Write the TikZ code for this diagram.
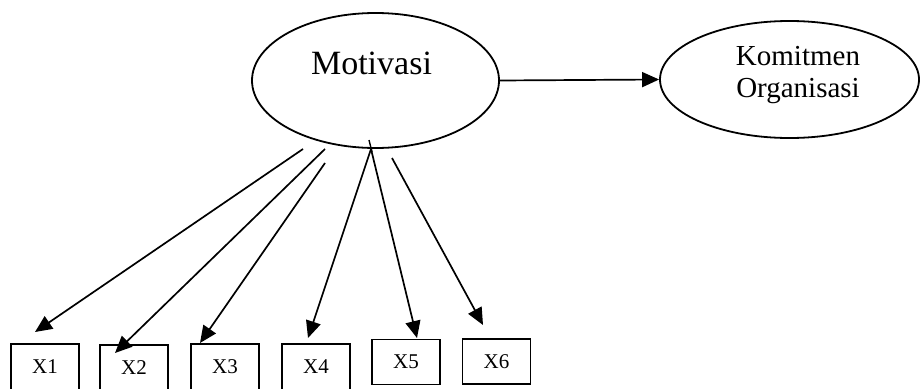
\documentclass[tikz,border=0pt]{standalone}
\usepackage{fontspec}
\setmainfont{Liberation Serif}
\usetikzlibrary{shapes.geometric,arrows.meta}
\begin{document}
\begin{tikzpicture}[x=1pt,y=-1pt,
  lat/.style={draw,ellipse,line width=1.8pt,inner sep=0pt},
  ind/.style={draw,rectangle,line width=1.6pt,inner sep=0pt,minimum width=68pt,font=\fontsize{21}{22}\selectfont},
  arr/.style={line width=1.7pt,-{Triangle[length=17pt,width=15pt]}},
  lbl/.style={inner sep=0pt,anchor=base}]
\clip (0,0) rectangle (923,388);
\fill[white] (0,0) rectangle (923,388);
% latent variables
\node[lat,minimum width=247pt,minimum height=135pt] (mot) at (375.5,80.5) {};
\node[lat,minimum width=259pt,minimum height=117pt] (kom) at (789.5,79.5) {};
\node[lbl,font=\fontsize{34}{36}\selectfont] (tmot) at (371.5,74) {Motivasi};
\node[lbl,font=\fontsize{29}{31}\selectfont] (tkom1) at (798,65) {Komitmen};
\node[lbl,font=\fontsize{29}{31}\selectfont] (tkom2) at (798,97) {Organisasi};
% indicators
\node[ind,minimum height=46pt] (x1) at (45,367) {X1};
\node[ind,minimum height=46pt] (x2) at (134,368) {X2};
\node[ind,minimum height=46pt] (x3) at (225,367) {X3};
\node[ind,minimum height=46pt] (x4) at (316,367) {X4};
\node[ind,minimum height=45pt] (x5) at (406,362) {X5};
\node[ind,minimum height=45pt] (x6) at (496.5,361.5) {X6};
% arrow ends
\coordinate (s1) at (303,149);
\coordinate (s2) at (325,149);
\coordinate (s3) at (325,163);
\coordinate (s4) at (371,149);
\coordinate (s6) at (392,158);
\coordinate (t1) at (35,332);
\coordinate (t2) at (115,353);
\coordinate (t3) at (200,343);
\coordinate (t4) at (308,338);
\coordinate (t5) at (417,338);
\coordinate (t6) at (483,325);
\draw[arr] (s1) -- (t1);
\draw[arr] (s2) -- (t2);
\draw[arr] (s3) -- (t3);
\draw[arr] (s4) -- (t4);
\draw[arr] (s4) -- (t5);
\draw[arr] (s6) -- (t6);
\draw[line width=1.4pt] (369,140) -- (372,152);
\draw[arr] (mot.east) -- (kom.west);
\end{tikzpicture}
\end{document}
